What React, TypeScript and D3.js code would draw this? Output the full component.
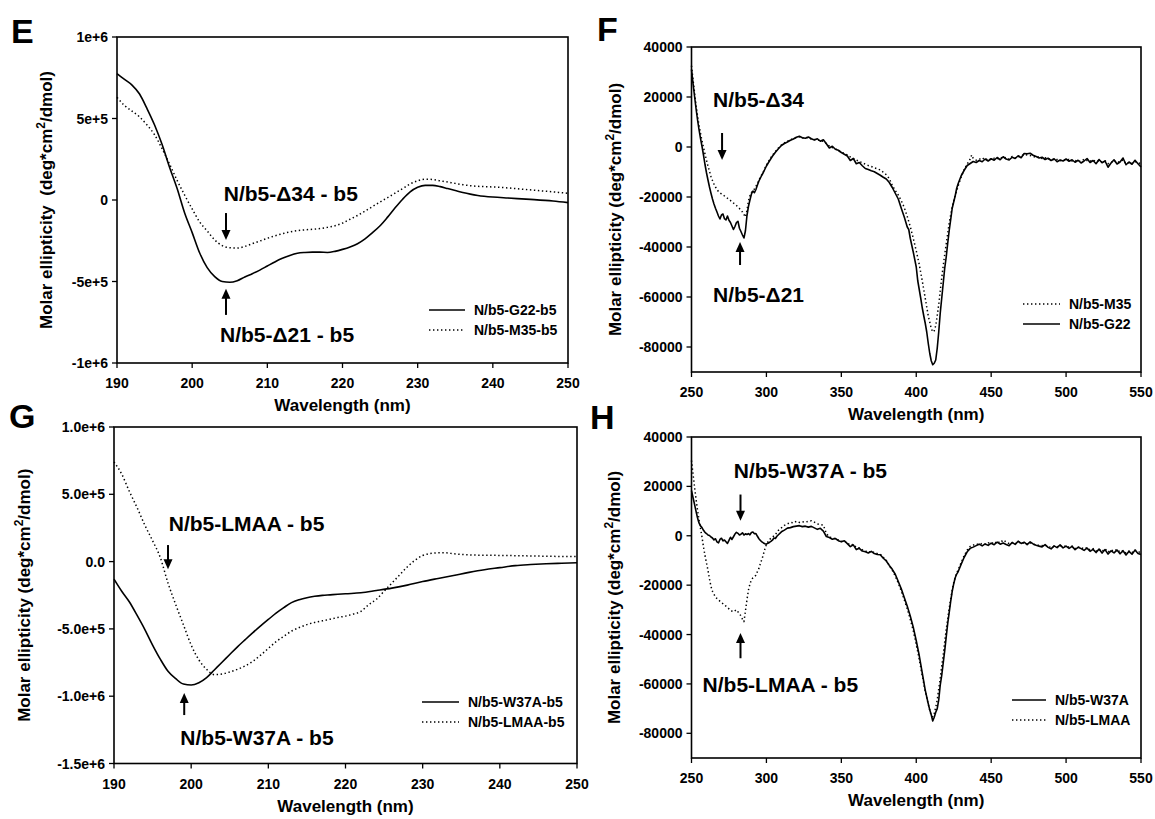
import React from 'react';
import * as d3 from 'd3';

const FONT = '"Liberation Sans", Arial, Helvetica, sans-serif';

// ---- Panel E : far-UV CD, G22 vs M35 ----
const eG22: [number, number][] = [
  [190, 775000], [191, 740000], [192, 705000], [193, 650000], [194, 560000], [195, 460000],
  [196, 340000], [197, 200000], [198, 70000], [199, -80000], [200, -200000], [201, -325000],
  [202, -415000], [203, -470000], [204, -500000], [205, -505000], [206, -495000], [207, -472000],
  [208, -452000], [209, -430000], [210, -405000], [211, -380000], [212, -358000], [213, -340000],
  [214, -327000], [215, -322000], [216, -320000], [217, -320000], [218, -322000], [219, -315000],
  [220, -303000], [221, -288000], [222, -268000], [223, -238000], [224, -200000], [225, -158000],
  [226, -105000], [227, -48000], [228, 5000], [229, 50000], [230, 78000], [231, 90000],
  [232, 90000], [233, 82000], [234, 70000], [235, 58000], [236, 46000], [237, 36000],
  [238, 28000], [240, 18000], [242, 12000], [245, 4000], [248, -6000], [250, -16000],
];
const eM35: [number, number][] = [
  [190, 630000], [191, 580000], [192, 545000], [193, 510000], [194, 460000], [195, 400000],
  [196, 315000], [197, 220000], [198, 120000], [199, 30000], [200, -55000], [201, -135000],
  [202, -190000], [203, -245000], [204, -280000], [205, -293000], [206, -295000], [207, -285000],
  [208, -268000], [209, -252000], [210, -235000], [211, -220000], [212, -207000], [213, -196000],
  [214, -188000], [215, -183000], [216, -180000], [217, -175000], [218, -168000], [219, -158000],
  [220, -142000], [221, -118000], [222, -95000], [223, -68000], [224, -40000], [225, -12000],
  [226, 15000], [227, 42000], [228, 70000], [229, 98000], [230, 118000], [231, 128000],
  [232, 126000], [233, 118000], [234, 110000], [235, 102000], [236, 94000], [237, 88000],
  [238, 84000], [240, 80000], [242, 74000], [244, 66000], [246, 58000], [248, 50000], [250, 41000],
];

// ---- Panel F : near-UV / Soret CD, G22 vs M35 ----
const fG22: [number, number][] = [
  [250, 31000], [251, 25500], [252, 20500], [253, 15500], [254, 11000], [255, 7000], [256, 3500],
  [257, 300], [258, -3200], [259, -7000], [260, -10300], [261, -13200], [262, -16000], [263, -18500],
  [264, -20800], [265, -22800], [266, -24500], [267, -26000], [268, -27600], [269, -28800], [270, -27200],
  [271, -26800], [272, -28700], [273, -29200], [274, -27600], [275, -29300], [276, -30200], [277, -31600],
  [278, -33000], [279, -31800], [280, -30200], [281, -29700], [282, -32500], [283, -33800], [284, -35200],
  [285, -36400], [286, -33500], [287, -27500], [288, -23800], [289, -21200], [290, -18800], [291, -17600],
  [292, -18300], [293, -17000], [294, -15200], [295, -13600], [296, -12400], [297, -11200], [298, -10100],
  [300, -7600], [302, -5600], [304, -3700], [306, -2100], [308, -700], [310, 600], [312, 1400],
  [314, 2000], [316, 2700], [318, 3200], [320, 3900], [322, 4300], [324, 3700], [326, 3500],
  [328, 4000], [330, 3300], [332, 2800], [334, 3300], [336, 2300], [338, 2900], [340, 1300],
  [342, -400], [344, 300], [346, -900], [348, -1300], [350, -2200], [352, -2900], [354, -3600],
  [356, -5400], [358, -4600], [360, -6700], [362, -6200], [364, -7500], [366, -8600], [368, -9000],
  [370, -9500], [372, -9900], [374, -10600], [376, -11300], [378, -12100], [380, -12800], [382, -14200],
  [384, -16200], [386, -18500], [388, -20800], [390, -24500], [392, -28000], [394, -32000], [395, -33000],
  [396, -36500], [398, -42000], [400, -48000], [401, -53500], [402, -57000], [403, -60500], [404, -64300],
  [405, -67500], [406, -70500], [407, -74000], [408, -78500], [409, -82500], [410, -85500], [411, -87100],
  [412, -86500], [413, -85200], [414, -80500], [415, -74000], [416, -66500], [417, -60500], [418, -54500],
  [419, -48500], [420, -44000], [421, -38500], [422, -33400], [423, -29000], [424, -24500], [425, -22000],
  [426, -19500], [427, -16500], [428, -14600], [430, -11500], [432, -9300], [434, -7400], [436, -6600],
  [438, -5800], [440, -6200], [442, -5400], [444, -5900], [446, -4800], [448, -5600], [450, -4700],
  [452, -5300], [454, -4200], [456, -5100], [458, -3900], [460, -4800], [462, -5200], [464, -4100],
  [466, -4600], [468, -3500], [470, -4300], [472, -2600], [474, -2700], [476, -2500], [478, -3300],
  [480, -3800], [482, -4400], [484, -4100], [486, -5000], [488, -4500], [490, -5400], [492, -4700],
  [494, -5900], [496, -5200], [498, -5600], [500, -4800], [502, -5700], [504, -5100], [506, -6100],
  [508, -5300], [510, -6400], [512, -5600], [514, -4600], [516, -6200], [518, -5400], [520, -6700],
  [522, -5000], [524, -6300], [526, -5600], [528, -8100], [530, -6400], [532, -5100], [534, -6800],
  [536, -6000], [538, -4400], [540, -7100], [542, -6000], [544, -6900], [546, -5300], [548, -6700], [550, -8000],
];
const fM35: [number, number][] = [
  [250, 32500], [251, 27000], [252, 22000], [253, 17000], [254, 12500], [255, 8800], [256, 5500],
  [257, 2500], [258, -200], [259, -2800], [260, -5300], [261, -7600], [262, -9700], [263, -11800],
  [264, -13400], [265, -14800], [266, -16000], [267, -17000], [268, -17800], [270, -18800], [272, -19600],
  [274, -20500], [276, -21400], [278, -22400], [280, -23400], [282, -24600], [284, -26000], [285, -27000],
  [286, -28000], [287, -25500], [288, -21500], [289, -19500], [290, -18200], [292, -16800], [294, -14600],
  [296, -12000], [298, -9800], [300, -7200], [302, -5200], [304, -3300], [306, -1800], [308, -400],
  [310, 800], [312, 1600], [314, 2300], [316, 2900], [318, 3300], [320, 3800], [322, 4100],
  [324, 3600], [326, 3800], [328, 3700], [330, 3200], [332, 3000], [334, 2900], [336, 2500],
  [338, 2300], [340, 1400], [342, 400], [344, -200], [346, -700], [348, -1500], [350, -2100],
  [352, -2600], [354, -3200], [356, -4000], [358, -4600], [360, -5200], [362, -5800], [364, -6300],
  [366, -6900], [368, -7400], [370, -7800], [372, -8300], [374, -8700], [376, -9200], [378, -10100],
  [380, -11100], [382, -12600], [384, -15400], [386, -17400], [388, -19200], [390, -21500], [392, -24200],
  [394, -27800], [396, -31800], [398, -36500], [400, -41500], [402, -47000], [404, -53500], [406, -60500],
  [408, -67500], [410, -72500], [411, -74000], [412, -73500], [413, -71500], [414, -67500], [415, -63000],
  [416, -57500], [417, -52500], [418, -47500], [419, -43000], [420, -38800], [421, -34500], [422, -30500],
  [423, -27000], [424, -24000], [425, -21500], [426, -19500], [427, -17500], [428, -15500], [430, -12000],
  [432, -9000], [434, -6800], [436, -4800], [437, -3200], [438, -4500], [440, -5300], [442, -5000],
  [444, -4300], [446, -5200], [448, -4600], [450, -5000], [452, -4500], [454, -4800], [456, -4100],
  [458, -4500], [460, -4200], [462, -4900], [464, -3800], [466, -4400], [468, -3900], [470, -3600],
  [472, -3000], [474, -3200], [476, -3400], [478, -3700], [480, -4200], [482, -3900], [484, -4600],
  [486, -4300], [488, -4900], [490, -4800], [492, -5200], [494, -5000], [496, -5500], [498, -5100],
  [500, -5300], [502, -5000], [504, -5600], [506, -5300], [508, -5800], [510, -5600], [512, -4900],
  [514, -5400], [516, -5700], [518, -5200], [520, -5900], [522, -5500], [524, -6000], [526, -5500],
  [528, -6700], [530, -6200], [532, -5500], [534, -6300], [536, -5800], [538, -5200], [540, -6700],
  [542, -6200], [544, -6500], [546, -5800], [548, -6200], [550, -6800],
];

// ---- Panel G : far-UV CD, W37A vs LMAA ----
const gW37A: [number, number][] = [
  [190, -130000], [191, -220000], [192, -300000], [193, -400000], [194, -505000], [195, -620000],
  [196, -725000], [197, -815000], [198, -870000], [199, -910000], [200, -917000], [201, -900000],
  [202, -862000], [203, -805000], [204, -748000], [205, -690000], [206, -633000], [207, -580000],
  [208, -528000], [209, -478000], [210, -430000], [211, -383000], [212, -342000], [213, -305000],
  [214, -283000], [215, -268000], [216, -258000], [217, -251000], [218, -247000], [219, -243000],
  [220, -239000], [222, -232000], [224, -215000], [226, -197000], [228, -175000], [230, -148000],
  [232, -125000], [234, -103000], [236, -80000], [238, -60000], [240, -45000], [242, -30000],
  [244, -22000], [246, -16000], [248, -12000], [250, -9000],
];
const gLMAA: [number, number][] = [
  [190, 740000], [191, 650000], [192, 520000], [193, 400000], [194, 270000], [195, 155000],
  [196, 30000], [197, -160000], [198, -320000], [199, -470000], [200, -620000], [201, -730000],
  [202, -800000], [203, -840000], [204, -835000], [205, -820000], [206, -800000], [207, -775000],
  [208, -740000], [209, -695000], [210, -645000], [211, -595000], [212, -555000], [213, -517000],
  [214, -490000], [215, -468000], [216, -452000], [217, -440000], [218, -428000], [219, -415000],
  [220, -405000], [221, -390000], [222, -370000], [223, -320000], [224, -280000], [225, -220000],
  [226, -160000], [227, -100000], [228, -40000], [229, 10000], [230, 45000], [231, 60000],
  [232, 65000], [233, 65000], [234, 58000], [235, 53000], [236, 50000], [238, 47000], [240, 46000],
  [242, 44000], [244, 42000], [246, 40000], [248, 38000], [250, 37000],
];

// ---- Panel H : near-UV / Soret CD, W37A vs LMAA ----
const hW37A: [number, number][] = [
  [250, 18300], [251, 15500], [252, 12800], [253, 10000], [254, 7300], [255, 5200], [256, 4000],
  [257, 3300], [258, 2200], [259, 1400], [260, 900], [261, 300], [262, 100], [263, -500],
  [264, -900], [265, -1700], [266, -1200], [267, -2500], [268, -2900], [269, -1500], [270, -1000],
  [271, -2100], [272, -1700], [273, -2400], [274, -3100], [275, -1900], [276, -600], [277, -1500],
  [278, -400], [279, 700], [280, 1400], [281, 1000], [282, 300], [283, 600], [284, 1200],
  [285, 300], [286, 800], [287, 500], [288, 900], [289, 400], [290, 1300], [291, 1500],
  [292, 800], [293, 900], [294, -200], [295, -1200], [296, -1900], [297, -2500], [298, -2900],
  [299, -3200], [300, -3400], [301, -3000], [302, -2700], [303, -2300], [304, -1800], [305, -900],
  [306, -1100], [307, -200], [308, 400], [310, 1600], [312, 2300], [314, 3100], [316, 3300],
  [318, 3700], [320, 3900], [322, 4100], [324, 3700], [326, 3900], [328, 3500], [330, 3800],
  [332, 3200], [334, 2600], [336, 3000], [338, 1900], [340, -300], [342, -700], [344, -1400],
  [346, -1100], [348, -2000], [350, -2400], [352, -2000], [354, -3200], [356, -4400], [358, -3700],
  [360, -5600], [362, -5100], [364, -6200], [366, -6500], [368, -7000], [370, -6300], [372, -7200],
  [374, -7600], [376, -7700], [378, -9100], [380, -10200], [382, -12000], [384, -13600], [386, -15600],
  [388, -18500], [390, -21500], [392, -25000], [394, -28500], [396, -32500], [398, -37000], [400, -42500],
  [402, -48500], [404, -55500], [406, -62500], [408, -68000], [409, -70500], [410, -72500], [411, -75000],
  [412, -73500], [413, -71500], [414, -70000], [415, -66500], [416, -60500], [417, -56500], [418, -51500],
  [419, -46500], [420, -41000], [421, -35500], [422, -31000], [423, -26500], [424, -22500], [425, -19500],
  [426, -17000], [427, -15500], [428, -14500], [430, -11500], [432, -8700], [434, -6500], [436, -5100],
  [438, -4600], [440, -4000], [442, -3400], [444, -4100], [446, -3300], [448, -3900], [450, -3000],
  [452, -3600], [454, -2600], [456, -3400], [458, -2900], [460, -3500], [462, -4000], [464, -2700],
  [466, -3500], [468, -2200], [470, -3100], [472, -2600], [474, -3600], [476, -2500], [478, -3300],
  [480, -3800], [482, -4200], [484, -4500], [486, -3600], [488, -4700], [490, -5300], [492, -4100],
  [494, -4800], [496, -3700], [498, -4900], [500, -4200], [502, -5100], [504, -4300], [506, -5600],
  [508, -4700], [510, -5200], [512, -5900], [514, -5000], [516, -6300], [518, -5500], [520, -6800],
  [522, -5400], [524, -7000], [526, -5600], [528, -7400], [530, -6100], [532, -6900], [534, -5800],
  [536, -7300], [538, -6100], [540, -7800], [542, -6300], [544, -7500], [546, -5800], [548, -7200], [550, -7600],
];
const hLMAA: [number, number][] = [
  [250, 30500], [251, 25000], [252, 20000], [253, 15000], [254, 10500], [255, 6500], [256, 3000],
  [257, -500], [258, -4500], [259, -8000], [260, -11000], [261, -14000], [262, -17500], [263, -20500],
  [264, -22500], [266, -24800], [268, -26000], [270, -27000], [272, -28000], [274, -29000], [276, -30200],
  [278, -30800], [280, -30000], [281, -30800], [282, -31500], [283, -32500], [284, -33800], [285, -34800],
  [286, -30500], [287, -26000], [288, -22000], [289, -19500], [290, -17800], [291, -17000], [292, -16500],
  [293, -16000], [294, -14500], [295, -13200], [296, -11200], [297, -9500], [298, -7500], [299, -5300],
  [300, -3500], [302, -1500], [304, -600], [306, 500], [308, 2200], [310, 3200], [312, 4200],
  [314, 4800], [316, 5400], [318, 5200], [320, 5900], [322, 5400], [324, 5700], [326, 5500],
  [328, 5900], [330, 6100], [332, 5500], [334, 4800], [336, 4500], [338, 4300], [340, 900],
  [342, -500], [344, -800], [346, -1200], [348, -1700], [350, -2300], [352, -2100], [354, -2900],
  [356, -3800], [358, -3500], [360, -4700], [362, -4900], [364, -5700], [366, -6100], [368, -6800],
  [370, -6300], [372, -6800], [374, -7200], [376, -7500], [378, -8700], [380, -10000], [382, -12000],
  [384, -14000], [386, -16300], [388, -19200], [390, -22400], [392, -25900], [394, -29600], [396, -33800],
  [398, -38400], [400, -44000], [402, -50000], [404, -56700], [406, -63000], [408, -68200], [409, -70600],
  [410, -72800], [411, -73300], [412, -72000], [413, -69500], [414, -66500], [415, -62000], [416, -57800],
  [417, -52800], [418, -48200], [419, -43000], [420, -38000], [421, -33500], [422, -29500], [423, -25500],
  [424, -22000], [425, -19000], [426, -16800], [427, -15000], [428, -13800], [430, -10800], [432, -8000],
  [434, -5800], [436, -4300], [438, -3800], [440, -3300], [442, -3600], [444, -3100], [446, -3500],
  [448, -2900], [450, -2700], [452, -3300], [454, -2200], [456, -2900], [458, -1700], [460, -2500],
  [462, -3200], [464, -2800], [466, -3300], [468, -2500], [470, -3000], [472, -2900], [474, -3300],
  [476, -2800], [478, -3500], [480, -3600], [482, -3900], [484, -4000], [486, -3800], [488, -4400],
  [490, -4700], [492, -4300], [494, -4500], [496, -4100], [498, -4600], [500, -4000], [502, -4700],
  [504, -4200], [506, -5200], [508, -4500], [510, -4800], [512, -5300], [514, -4800], [516, -5700],
  [518, -5200], [520, -6200], [522, -5500], [524, -6300], [526, -5300], [528, -6600], [530, -5800],
  [532, -6200], [534, -5500], [536, -6600], [538, -6000], [540, -7000], [542, -6200], [544, -6800],
  [546, -5800], [548, -6400], [550, -6900],
];

// ticks
const farUvTicks = [190, 200, 210, 220, 230, 240, 250];
const nearUvTicks = [250, 300, 350, 400, 450, 500, 550];
const eYTicks = [1e6, 5e5, 0, -5e5, -1e6];
const eYLabels = ['1e+6', '5e+5', '0', '-5e+5', '-1e+6'];
const gYTicks = [1e6, 5e5, 0, -5e5, -1e6, -1.5e6];
const gYLabels = ['1.0e+6', '5.0e+5', '0.0', '-5.0e+5', '-1.0e+6', '-1.5e+6'];
const nearYTicks = [40000, 20000, 0, -20000, -40000, -60000, -80000];

type Series = { name: string; data: [number, number][]; dotted: boolean };
type Note = { text: string; x: number; y: number };
type Arrow = { x: number; from: number; to: number };

type PanelCfg = {
  letter: string; letterX: number; letterY: number;
  left: number; right: number; top: number; bottom: number;
  xDomain: [number, number]; yDomain: [number, number];
  xTicks: number[]; yTicks: number[]; yLabels: string[];
  ytitleX: number; ytitleGap: boolean;
  series: Series[]; smooth: boolean;
  legend: { x: number; y: number; len: number };
  notes: Note[]; arrows: Arrow[];
};

const DOT = '1.4 2.6';

function Panel({ c }: { c: PanelCfg }) {
  const x = d3.scaleLinear().domain(c.xDomain).range([c.left, c.right]);
  const y = d3.scaleLinear().domain(c.yDomain).range([c.bottom, c.top]);
  const line = d3.line<[number, number]>()
    .x(d => x(d[0]))
    .y(d => y(d[1]))
    .curve(c.smooth ? d3.curveMonotoneX : d3.curveLinear);
  const midY = (c.top + c.bottom) / 2;

  return (
    <g fontFamily={FONT} fontWeight="bold" fill="#000">
      <text x={c.letterX} y={c.letterY} fontSize={34}>{c.letter}</text>

      {/* curves */}
      <g fill="none" stroke="#000">
        {c.series.map(s => (
          <path key={s.name} d={line(s.data) || ''} strokeWidth={s.dotted ? 1.5 : 1.6}
            strokeDasharray={s.dotted ? DOT : undefined} strokeLinejoin="round" />
        ))}
      </g>

      {/* frame */}
      <rect x={c.left} y={c.top} width={c.right - c.left} height={c.bottom - c.top}
        fill="none" stroke="#000" strokeWidth={1.6} />

      {/* x axis */}
      {c.xTicks.map(t => (
        <g key={'x' + t}>
          <line x1={x(t)} x2={x(t)} y1={c.bottom} y2={c.bottom + 5} stroke="#000" strokeWidth={1.3} />
          <text x={x(t)} y={c.bottom + 25} fontSize={14} textAnchor="middle">{t}</text>
        </g>
      ))}
      <text x={(c.left + c.right) / 2} y={c.bottom + 48} fontSize={17} textAnchor="middle">
        Wavelength (nm)
      </text>

      {/* y axis */}
      {c.yTicks.map((t, i) => (
        <g key={'y' + t}>
          <line x1={c.left - 5} x2={c.left} y1={y(t)} y2={y(t)} stroke="#000" strokeWidth={1.3} />
          <text x={c.left - 9} y={y(t) + 5} fontSize={14} textAnchor="end">{c.yLabels[i]}</text>
        </g>
      ))}
      <text transform={`translate(${c.ytitleX},${midY}) rotate(-90)`} fontSize={17} textAnchor="middle">
        <tspan>{c.ytitleGap ? 'Molar ellipticity\u00a0\u00a0(deg*cm' : 'Molar ellipticity (deg*cm'}</tspan>
        <tspan fontSize={12} dy={-7}>2</tspan>
        <tspan dy={7}>/dmol)</tspan>
      </text>

      {/* legend */}
      {c.series.map((s, i) => {
        const ly = c.legend.y + i * 20;
        return (
          <g key={'lg' + s.name}>
            <line x1={c.legend.x} x2={c.legend.x + c.legend.len} y1={ly} y2={ly} stroke="#000"
              strokeWidth={s.dotted ? 1.5 : 1.6} strokeDasharray={s.dotted ? DOT : undefined} />
            <text x={c.legend.x + c.legend.len + 9} y={ly + 5} fontSize={14}>{s.name}</text>
          </g>
        );
      })}

      {/* annotations */}
      {c.notes.map(n => (
        <text key={n.text} x={x(n.x)} y={y(n.y)} fontSize={21}>{n.text}</text>
      ))}
      {c.arrows.map((a, i) => {
        const ax = x(a.x);
        const y0 = y(a.from);
        const y1 = y(a.to);
        const dir = y1 > y0 ? 1 : -1;
        return (
          <g key={'ar' + i}>
            <line x1={ax} x2={ax} y1={y0} y2={y1 - dir * 8} stroke="#000" strokeWidth={2} />
            <path d={`M${ax - 4.5},${y1 - dir * 10} L${ax + 4.5},${y1 - dir * 10} L${ax},${y1} Z`} fill="#000" />
          </g>
        );
      })}
    </g>
  );
}

const panels: PanelCfg[] = [
  {
    letter: 'E', letterX: 11, letterY: 43,
    left: 117, right: 568, top: 37, bottom: 363,
    xDomain: [190, 250], yDomain: [-1e6, 1e6],
    xTicks: farUvTicks, yTicks: eYTicks, yLabels: eYLabels,
    ytitleX: 52, ytitleGap: true,
    series: [
      { name: 'N/b5-G22-b5', data: eG22, dotted: false },
      { name: 'N/b5-M35-b5', data: eM35, dotted: true },
    ],
    smooth: true,
    legend: { x: 429, y: 310, len: 36 },
    notes: [
      { text: 'N/b5-\u039434 - b5', x: 204.2, y: -5000 },
      { text: 'N/b5-\u039421 - b5', x: 203.7, y: -870000 },
    ],
    arrows: [
      { x: 204.5, from: -80000, to: -245000 },
      { x: 204.5, from: -705000, to: -545000 },
    ],
  },
  {
    letter: 'F', letterX: 597, letterY: 41,
    left: 691.5, right: 1141, top: 47, bottom: 372,
    xDomain: [250, 550], yDomain: [-90000, 40000],
    xTicks: nearUvTicks, yTicks: nearYTicks, yLabels: nearYTicks.map(String),
    ytitleX: 621, ytitleGap: false,
    series: [
      { name: 'N/b5-M35', data: fM35, dotted: true },
      { name: 'N/b5-G22', data: fG22, dotted: false },
    ],
    smooth: false,
    legend: { x: 1023, y: 304, len: 37 },
    notes: [
      { text: 'N/b5-\u039434', x: 264.4, y: 16000 },
      { text: 'N/b5-\u039421', x: 264.4, y: -62000 },
    ],
    arrows: [
      { x: 270.4, from: 5600, to: -5200 },
      { x: 282.4, from: -47200, to: -38000 },
    ],
  },
  {
    letter: 'G', letterX: 9, letterY: 428,
    left: 114, right: 577, top: 427, bottom: 763.5,
    xDomain: [190, 250], yDomain: [-1.5e6, 1e6],
    xTicks: farUvTicks, yTicks: gYTicks, yLabels: gYLabels,
    ytitleX: 30, ytitleGap: false,
    series: [
      { name: 'N/b5-W37A-b5', data: gW37A, dotted: false },
      { name: 'N/b5-LMAA-b5', data: gLMAA, dotted: true },
    ],
    smooth: true,
    legend: { x: 422, y: 702, len: 37 },
    notes: [
      { text: 'N/b5-LMAA - b5', x: 197.1, y: 227000 },
      { text: 'N/b5-W37A - b5', x: 198.6, y: -1363000 },
    ],
    arrows: [
      { x: 197.0, from: 123000, to: -56000 },
      { x: 199.1, from: -1140000, to: -977000 },
    ],
  },
  {
    letter: 'H', letterX: 590, letterY: 429,
    left: 691.5, right: 1141, top: 437, bottom: 758,
    xDomain: [250, 550], yDomain: [-90000, 40000],
    xTicks: nearUvTicks, yTicks: nearYTicks, yLabels: nearYTicks.map(String),
    ytitleX: 620, ytitleGap: false,
    series: [
      { name: 'N/b5-W37A', data: hW37A, dotted: false },
      { name: 'N/b5-LMAA', data: hLMAA, dotted: true },
    ],
    smooth: false,
    legend: { x: 1012, y: 700, len: 34 },
    notes: [
      { text: 'N/b5-W37A - b5', x: 278.2, y: 23200 },
      { text: 'N/b5-LMAA - b5', x: 257.4, y: -63400 },
    ],
    arrows: [
      { x: 282.7, from: 16700, to: 6100 },
      { x: 282.7, from: -49600, to: -39400 },
    ],
  },
];

export default function App() {
  return (
    <svg width={1155} height={819} style={{ position: 'absolute', left: 0, top: 0, background: '#fff' }}>
      <rect width={1155} height={819} fill="#fff" />
      {panels.map(p => <Panel key={p.letter} c={p} />)}
    </svg>
  );
}
